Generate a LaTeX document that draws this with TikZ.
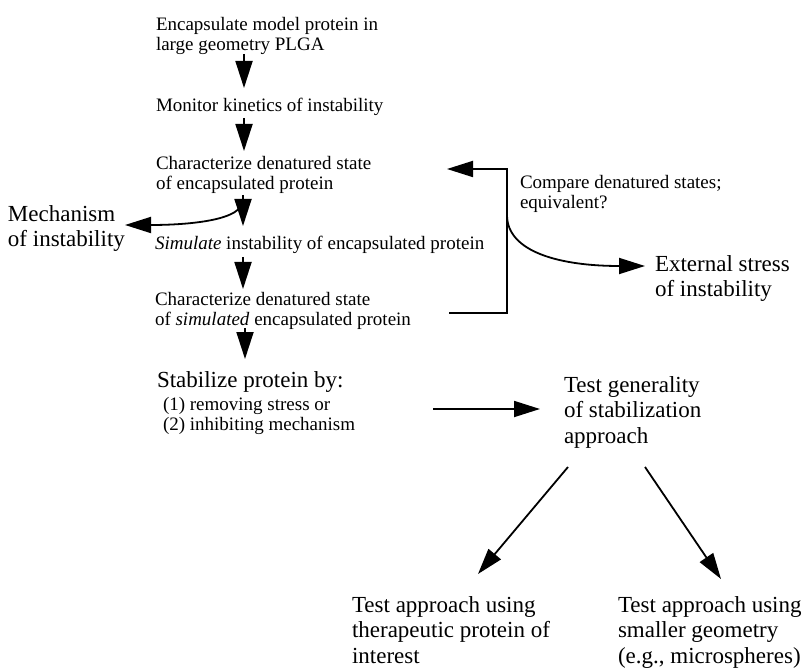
\documentclass[tikz,border=0pt]{standalone}
\usepackage{fontspec}
\setmainfont{Liberation Serif}
\usetikzlibrary{arrows.meta,calc}
\tikzset{
  small/.style={font=\fontsize{19}{20}\selectfont, align=left, anchor=base west, inner sep=0pt, outer sep=0pt},
  large/.style={font=\fontsize{23}{25.5}\selectfont, align=left, anchor=base west, inner sep=0pt, outer sep=0pt},
  vflow/.style={line width=1.8pt, -{Triangle[length=27pt,width=17pt]}},
  flow/.style={line width=1.8pt, -{Triangle[length=26pt,width=16pt]}},
}
\begin{document}
\begin{tikzpicture}[x=1pt,y=-1pt]
\useasboundingbox[fill=white] (0,0) rectangle (803,668);
% text nodes (base anchor = baseline of the last line)
\node[small] (t1) at (156,51) {Encapsulate model protein in\\large geometry PLGA};
\node[small] (t2) at (156,112) {Monitor kinetics of instability};
\node[small] (t3) at (156,190) {Characterize denatured state\\of encapsulated protein};
\node[small] (t4) at (155,250) {\textit{Simulate} instability of encapsulated protein};
\node[small] (t5) at (155,325) {Characterize denatured state\\of \textit{simulated} encapsulated protein};
\node[large] (stab) at (157,387) {Stabilize protein by:};
\node[small] (stabopts) at (163,430) {(1) removing stress or\\(2) inhibiting mechanism};
\node[small] (cmp) at (520,209) {Compare denatured states;\\equivalent?};
\node[large] (mech) at (8,247) {Mechanism\\of instability};
\node[large] (ext) at (655,297) {External stress\\of instability};
\node[large] (gen) at (564,443) {Test generality\\of stabilization\\approach};
\node[large] (ther) at (352,663) {Test approach using\\therapeutic protein of\\interest};
\node[large] (geom) at (618,663) {Test approach using\\smaller geometry\\(e.g., microspheres)};
\coordinate (brk) at (507,169);
\coordinate (split) at (507,215);
% vertical flow
\draw[vflow] ($(t1.base west)+(88,3)$) -- ($(t2.base west)+(88,-24)$);
\draw[vflow] ($(t2.base west)+(88,6)$) -- ($(t3.base west)+(88,-39)$);
\draw[vflow] ($(t3.base west)+(87,5)$) -- ($(t4.base west)+(88,-24)$);
\draw[vflow] ($(t4.base west)+(88,7)$) -- ($(t5.base west)+(88,-36)$);
\draw[vflow] ($(t5.base west)+(90,3)$) -- ($(stab.base west)+(88,-28)$);
% mechanism branch
\draw[flow] ($(t3.base west)+(85,15)$) .. controls (236,220) and (190,225) .. ($(mech.base west)+(117,-22)$);
% comparison bracket
\draw[flow] ($(t5.base west)+(294,-12)$) -| (brk) -- ($(t3.base west)+(291,-21)$);
\draw[flow] (split) .. controls (507,252) and (560,266) .. ($(ext.base west)+(-10,-31)$);
% stabilization
\draw[flow] ($(stabopts.base west)+(270,-21)$) -- ($(gen.base west)+(-24,-34)$);
\draw[flow] ($(gen.base west)+(4,24)$) -- ($(ther.base west)+(126,-89)$);
\draw[flow] ($(gen.base west)+(81,24)$) -- ($(geom.base west)+(103,-84)$);
\end{tikzpicture}
\end{document}
